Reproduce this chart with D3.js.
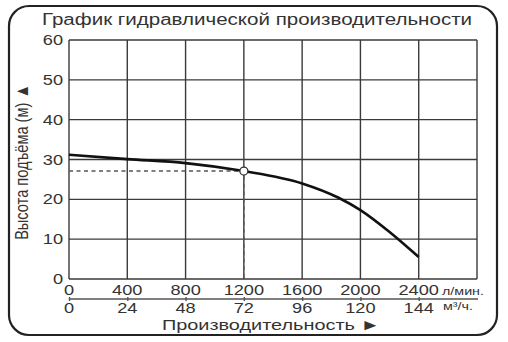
<!DOCTYPE html>
<html>
<head>
<meta charset="utf-8">
<script src="https://cdn.jsdelivr.net/npm/d3@7"></script>
<style>
    body { margin: 0; background: #fff; }
    text { font-family: "Liberation Sans", Arial, sans-serif; fill: #333; }
</style>
</head>
<body>
<div id="chart"></div>
<script>
// flow in l/min and head in m
var flow = [0, 400, 800, 1200, 1600, 1850, 2000, 2200, 2400];
var head = [31.2, 30.1, 29.1, 27.1, 24.0, 20.4, 17.3, 11.8, 5.5];

// marked duty point
var dutyFlow = 1200;
var dutyHead = 27.1;

// tick labels
var lpmTicks = [0, 400, 800, 1200, 1600, 2000, 2400];
var m3hTicks = [0, 24, 48, 72, 96, 120, 144];
var headTicks = [0, 10, 20, 30, 40, 50, 60];
var gridFlow = [0, 400, 800, 1200, 1600, 2000, 2400, 2800];

window.onload = function() {
    draw();
};

function draw() {
    var width = 508;
    var height = 342;
    var plot = {left: 69, right: 477, top: 40, bottom: 279};
    var stretch = 1.3; // the picture is squeezed wide, text too

    var svg = d3.select("#chart").append("svg").attr("width", width).attr("height", height);

    // rounded frame
    svg.append("rect")
        .attr("x", 9).attr("y", 6)
        .attr("width", 488).attr("height", 329)
        .attr("rx", 20).attr("ry", 20)
        .attr("fill", "none").attr("stroke", "#222").attr("stroke-width", 2.2);

    // scales
    var xscale = d3.scaleLinear().domain([0, 2800]).range([plot.left, plot.right]);
    var x2scale = d3.scaleLinear().domain([0, 168]).range([plot.left, plot.right]);
    var yscale = d3.scaleLinear().domain([0, 60]).range([plot.bottom, plot.top]);

    // grid
    var grid = svg.append("g").attr("stroke", "#3a3a3a").attr("stroke-width", 1.4);
    grid.selectAll(".vx").data(gridFlow).enter().append("line")
        .attr("x1", function(d) { return xscale(d); })
        .attr("x2", function(d) { return xscale(d); })
        .attr("y1", plot.top).attr("y2", plot.bottom);
    grid.selectAll(".hy").data(headTicks).enter().append("line")
        .attr("x1", plot.left).attr("x2", plot.right)
        .attr("y1", function(d) { return yscale(d); })
        .attr("y2", function(d) { return yscale(d); });

    // helper for horizontally stretched text
    function label(x, y, str, size, anchor) {
        return svg.append("text")
            .attr("transform", "translate(" + x + "," + y + ") scale(" + stretch + ",1)")
            .attr("text-anchor", anchor)
            .style("font-size", size + "px")
            .text(str);
    }

    // y tick labels
    headTicks.forEach(function(d) {
        label(63, yscale(d) + 5, d, 14, "end");
    });

    // top x row, l/min
    lpmTicks.forEach(function(d) {
        label(xscale(d), 295, d, 14, "middle");
    });
    label(442, 295, "л/мин.", 11, "start");

    // second axis line with ticks
    var axis2 = d3.axisBottom(x2scale).tickValues(m3hTicks).tickSize(3).tickFormat("");
    var g2 = svg.append("g")
        .attr("transform", "translate(0,299)")
        .call(axis2);
    g2.select(".domain").attr("stroke", "#555").attr("stroke-width", 1.4)
        .attr("d", "M" + plot.left + ",0H" + (plot.right + 1));
    g2.selectAll(".tick line").attr("stroke", "#555").attr("stroke-width", 1.4).attr("y1", -2).attr("y2", 2);

    // bottom x row, m3/h
    m3hTicks.forEach(function(d) {
        label(x2scale(d), 313, d, 14, "middle");
    });
    label(443, 310, "м³/ч.", 11, "start");

    // duty point guide lines
    svg.append("path")
        .attr("d", "M" + plot.left + "," + yscale(dutyHead) + "H" + xscale(dutyFlow) + "V" + plot.bottom)
        .attr("fill", "none").attr("stroke", "#555").attr("stroke-width", 1.4)
        .attr("stroke-dasharray", "4,3.5");

    // pump curve
    var line = d3.line()
        .x(function(d, i) { return xscale(flow[i]); })
        .y(function(d) { return yscale(d); })
        .curve(d3.curveMonotoneX);
    svg.append("path")
        .attr("d", line(head))
        .attr("fill", "none").attr("stroke", "#111").attr("stroke-width", 2.6);

    // duty point marker
    svg.append("circle")
        .attr("cx", xscale(dutyFlow)).attr("cy", yscale(dutyHead)).attr("r", 4)
        .attr("fill", "#fff").attr("stroke", "#333").attr("stroke-width", 1.3);

    // title
    label(257, 25, "График гидравлической производительности", 15.8, "middle");

    // x title
    label(271, 330, "Производительность ►", 15.3, "middle");

    // y title
    svg.append("text")
        .attr("transform", "translate(28,162) rotate(-90) scale(1," + stretch + ")")
        .attr("text-anchor", "middle")
        .style("font-size", "14.6px")
        .text("Высота подъёма (м) ▲");
}
</script>
</body>
</html>
